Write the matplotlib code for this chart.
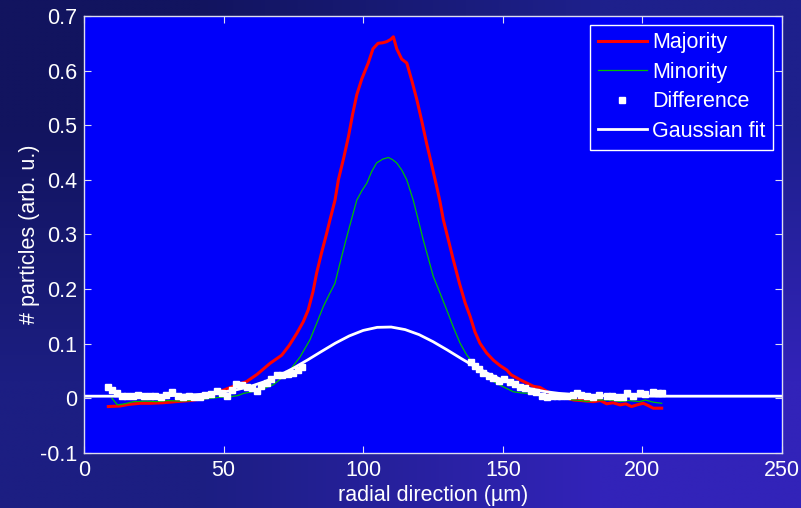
import numpy as np
import matplotlib
matplotlib.use("Agg")
import matplotlib.pyplot as plt
from matplotlib.ticker import FormatStrFormatter

plt.rcParams['font.family'] = ['Liberation Sans', 'DejaVu Sans']
plt.rcParams['axes.unicode_minus'] = False

# Majority (red)
maj_x = [8.7, 12.9, 16, 20.1, 24, 28.4, 33, 38, 42, 46, 49.9, 54, 58.3, 62, 66.6,
         70.8, 73.5, 76.2, 78.5, 80.3, 82, 83.3, 85, 86.9, 88.1, 89.9, 91.1, 93,
         94.7, 96.2, 97.7, 99.5, 101.8, 103.5, 105.3, 107, 108.4, 109.8, 110.8,
         112, 113.8, 115.6, 117.5, 119.2, 121, 122.7, 124.5, 126.3, 127.5, 128.7,
         130.5, 132.3, 134.5, 136.5, 138.3, 140, 141.8, 144.2, 146.6, 149, 151.4,
         153, 156.2, 158.6, 161, 163.3, 166, 169, 172, 175.3, 178, 182.4, 185,
         187.2, 189.5, 192, 194, 196.1, 198, 200.3, 202, 203.9, 206.9]
maj_y = [-0.015, -0.014, -0.011, -0.009, -0.009, -0.008, -0.006, -0.004, -0.001,
         0.006, 0.015, 0.023, 0.031, 0.044, 0.064, 0.079, 0.097, 0.119, 0.140,
         0.162, 0.195, 0.229, 0.265, 0.302, 0.327, 0.363, 0.400, 0.440, 0.479,
         0.520, 0.556, 0.585, 0.614, 0.640, 0.650, 0.651, 0.653, 0.657, 0.662,
         0.640, 0.621, 0.614, 0.580, 0.547, 0.507, 0.467, 0.428, 0.388, 0.360,
         0.327, 0.290, 0.253, 0.210, 0.175, 0.150, 0.122, 0.101, 0.083, 0.070,
         0.060, 0.052, 0.043, 0.034, 0.028, 0.022, 0.020, 0.012, 0.006, 0.002,
         -0.003, -0.004, -0.006, -0.004, -0.010, -0.008, -0.012, -0.010, -0.015,
         -0.012, -0.009, -0.013, -0.018, -0.018]

# Minority (green)
min_x = [10.0, 12.0, 14.5, 17.7, 22, 26, 30, 34, 38, 42, 45.1, 48.5, 52.3, 55,
         57.1, 60, 64, 67.8, 71, 73.8, 77.4, 80.9, 83.3, 85.7, 87.8, 89.9, 91.7,
         93.5, 95.5, 97.7, 99.5, 101.3, 103, 104.8, 107, 109, 110.5, 112, 113.8,
         115.6, 117.9, 119.7, 121.5, 123.3, 125.1, 127.5, 129.9, 132.3, 134.7,
         137, 139.4, 143, 146.6, 149, 151.4, 153.8, 156.7, 159.7, 163, 167, 171,
         175.3, 178, 180.1, 183.5, 187.2, 190, 192, 195, 199.1, 201, 203.9, 206.9]
min_y = [0.000, -0.012, -0.010, -0.006, -0.005, -0.006, -0.004, -0.005, -0.004,
         -0.002, 0.000, 0.002, 0.003, 0.005, 0.009, 0.012, 0.017, 0.025, 0.038,
         0.052, 0.076, 0.107, 0.137, 0.168, 0.190, 0.211, 0.248, 0.284, 0.322,
         0.363, 0.380, 0.394, 0.415, 0.431, 0.438, 0.441, 0.437, 0.431, 0.418,
         0.400, 0.363, 0.327, 0.290, 0.257, 0.223, 0.193, 0.162, 0.130, 0.101,
         0.080, 0.064, 0.045, 0.031, 0.024, 0.018, 0.012, 0.010, 0.009, 0.005,
         0.002, 0.000, -0.003, -0.004, -0.006, -0.003, -0.003, -0.004, -0.006,
         -0.004, -0.006, -0.003, -0.007, -0.009]

# Difference (white squares, wings only)
diff_x = [8.5, 10, 11.7, 13.5, 15.5, 17.5, 19.5, 21.5, 23.5, 25.5, 27.5, 29.5,
          31.5, 33.5, 35.5, 37.5, 39.5, 41.5, 43.5, 45.5, 47.5, 49.5, 51.1, 53,
          54.5, 56.5, 58.3, 60, 61.8, 63.5, 65.4, 67, 69, 71, 73, 75, 76.5, 78,
          138.5, 140, 141.5, 143, 145, 146.6, 148.5, 150.5, 152.5, 154.5, 156.2,
          158, 160, 162, 164, 165.7, 167.5, 169.3, 171, 173, 175, 176.4, 178, 180,
          182.4, 184.5, 187.2, 189, 191, 193, 194.4, 196.5, 199.1, 201, 203.9,
          205.5, 206.9]
diff_y = [0.020, 0.016, 0.009, 0.005, 0.005, 0.004, 0.006, 0.004, 0.005, 0.005,
          0.003, 0.006, 0.011, 0.004, 0.003, 0.004, 0.003, 0.002, 0.006, 0.008,
          0.014, 0.010, 0.005, 0.015, 0.026, 0.024, 0.020, 0.019, 0.014, 0.022,
          0.029, 0.036, 0.042, 0.043, 0.045, 0.047, 0.052, 0.058,
          0.066, 0.060, 0.053, 0.046, 0.041, 0.037, 0.032, 0.036, 0.030, 0.026,
          0.021, 0.019, 0.013, 0.011, 0.005, 0.003, 0.004, 0.005, 0.004, 0.004,
          0.006, 0.010, 0.006, 0.004, 0.003, 0.007, 0.005, 0.004, 0.003, 0.002,
          0.009, 0.005, 0.009, 0.008, 0.012, 0.010, 0.009]

# Gaussian fit (white line), read at 5 um steps
fit_x = [0, 10, 20, 30, 40, 45, 50, 55, 60, 65, 70, 75, 80, 85, 90, 95, 100, 105,
         110, 115, 120, 125, 130, 135, 140, 145, 150, 155, 160, 165, 170, 175,
         180, 190, 200, 210, 250]
fit_y = [0.004, 0.004, 0.0042, 0.0048, 0.0067, 0.0087, 0.0117, 0.0162, 0.0226,
         0.0312, 0.0421, 0.0553, 0.0701, 0.0857, 0.1010, 0.1143, 0.1244, 0.1300,
         0.1306, 0.1259, 0.1167, 0.1038, 0.0889, 0.0732, 0.0581, 0.0446, 0.0332,
         0.0242, 0.0174, 0.0125, 0.0092, 0.0070, 0.0057, 0.0045, 0.0041, 0.004,
         0.004]

x_ticks = [0, 50, 100, 150, 200, 250]
y_ticks = [-0.1, 0, 0.1, 0.2, 0.3, 0.4, 0.5, 0.6, 0.7]

fs = 15.5

fig = plt.figure(figsize=(8.01, 5.08), dpi=100)

# dark blue backdrop
bg = fig.add_axes([0, 0, 1, 1], zorder=-10)
grad = np.array([[[18, 20, 95], [30, 32, 140]],
                 [[28, 30, 130], [50, 35, 185]]]) / 255.0
bg.imshow(grad, extent=[0, 1, 0, 1], aspect='auto', interpolation='bilinear')
bg.axis('off')

ax = fig.add_axes([0.1049, 0.1083, 0.8714, 0.8602])
ax.set_facecolor('#0000fa')

ax.plot(maj_x, maj_y, color='#ff0000', lw=2.2, label='Majority')
ax.plot(min_x, min_y, color='#00c000', lw=0.9, label='Minority')
ax.plot(diff_x, diff_y, ls='none', marker='s', ms=5, color='white',
        mec='white', label='Difference')
ax.plot(fit_x, fit_y, color='white', lw=2.0, label='Gaussian fit')

ax.set_xlim(0, 250)
ax.set_ylim(-0.1, 0.7)
ax.set_xticks(x_ticks)
ax.set_yticks(y_ticks)
ax.yaxis.set_major_formatter(FormatStrFormatter('%g'))

ax.tick_params(direction='in', length=5, top=True, right=True,
               colors='#dcdcf0', labelcolor='white', labelsize=fs, pad=5)
for sp in ax.spines.values():
    sp.set_color('#dcdcf0')
    sp.set_linewidth(1.0)

ax.set_xlabel('radial direction (µm)', color='white', fontsize=fs, labelpad=3)
ax.set_ylabel('# particles (arb. u.)', color='white', fontsize=fs, labelpad=0)

leg = ax.legend(loc='upper right', fontsize=fs, frameon=True, fancybox=False,
                facecolor='#0000fa', edgecolor='white', framealpha=1,
                labelcolor='white', handlelength=2.3, handletextpad=0.25,
                borderpad=0.35, labelspacing=0.4, borderaxespad=0.4,
                markerscale=0.8)
leg.get_frame().set_linewidth(1.0)

fig.savefig('out.png', dpi=100)
